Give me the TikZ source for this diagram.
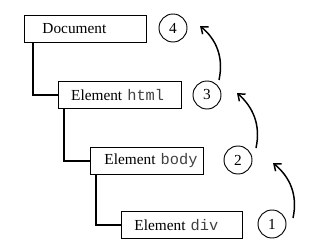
\documentclass[tikz,border=0pt]{standalone}
\usepackage{fontspec}
\setmainfont{Liberation Serif}
\setmonofont{Liberation Mono}
\usetikzlibrary{arrows.meta}
\newcommand{\code}[1]{{\color{black!75}\texttt{#1}}}
\tikzset{
    box/.style={draw, line width=0.7pt, minimum height=20.25pt, inner sep=0pt, align=left, anchor=north west, font=\fontsize{11.5}{13}\selectfont},
    num/.style={draw, circle, line width=0.7pt, minimum size=21pt, inner sep=0pt, font=\fontsize{11.5}{13}\selectfont},
    tree/.style={line width=1.2pt},
    up arrow/.style={line width=1.1pt, -{Straight Barb[length=4.5pt, width=7pt, line width=1.1pt]}}
}
\begin{document}
\begin{tikzpicture}[x=0.75pt, y=-0.75pt]
    \useasboundingbox (0,0) rectangle (327,252);
    \node[box, text width=91.5pt] (doc) at (24,15) {\hspace*{13.5pt}Document};
    \node[box, text width=92.25pt] (html) at (58,81) {\hspace*{9.5pt}Element \code{html}};
    \node[box, text width=84.75pt] (body) at (90,147) {\hspace*{10.5pt}Element \code{body}};
    \node[box, text width=90.75pt] (div) at (121,211) {\hspace*{9.75pt}Element \code{div}};
    \node[num] (c4) at (173,28) {4};
    \node[num] (c3) at (207,95) {3};
    \node[num] (c2) at (238,160) {2};
    \node[num] (c1) at (272,224) {1};
    \draw[tree] ([xshift=9*0.75pt]doc.south west) |- (html.west);
    \draw[tree] ([xshift=6*0.75pt]html.south west) |- (body.west);
    \draw[tree] ([xshift=6*0.75pt]body.south west) |- (div.west);
    % arrows going up
    \coordinate (s1) at (293,218);
    \coordinate (e1) at (273,163);
    \coordinate (s2) at (256,148);
    \coordinate (e2) at (237,93);
    \coordinate (s3) at (219,80);
    \coordinate (e3) at (200,26);
    \draw[up arrow] (s1) .. controls (298,195) and (290,177) .. (e1);
    \draw[up arrow] (s2) .. controls (261,125) and (253,107) .. (e2);
    \draw[up arrow] (s3) .. controls (224,57) and (216,39) .. (e3);
\end{tikzpicture}
\end{document}
